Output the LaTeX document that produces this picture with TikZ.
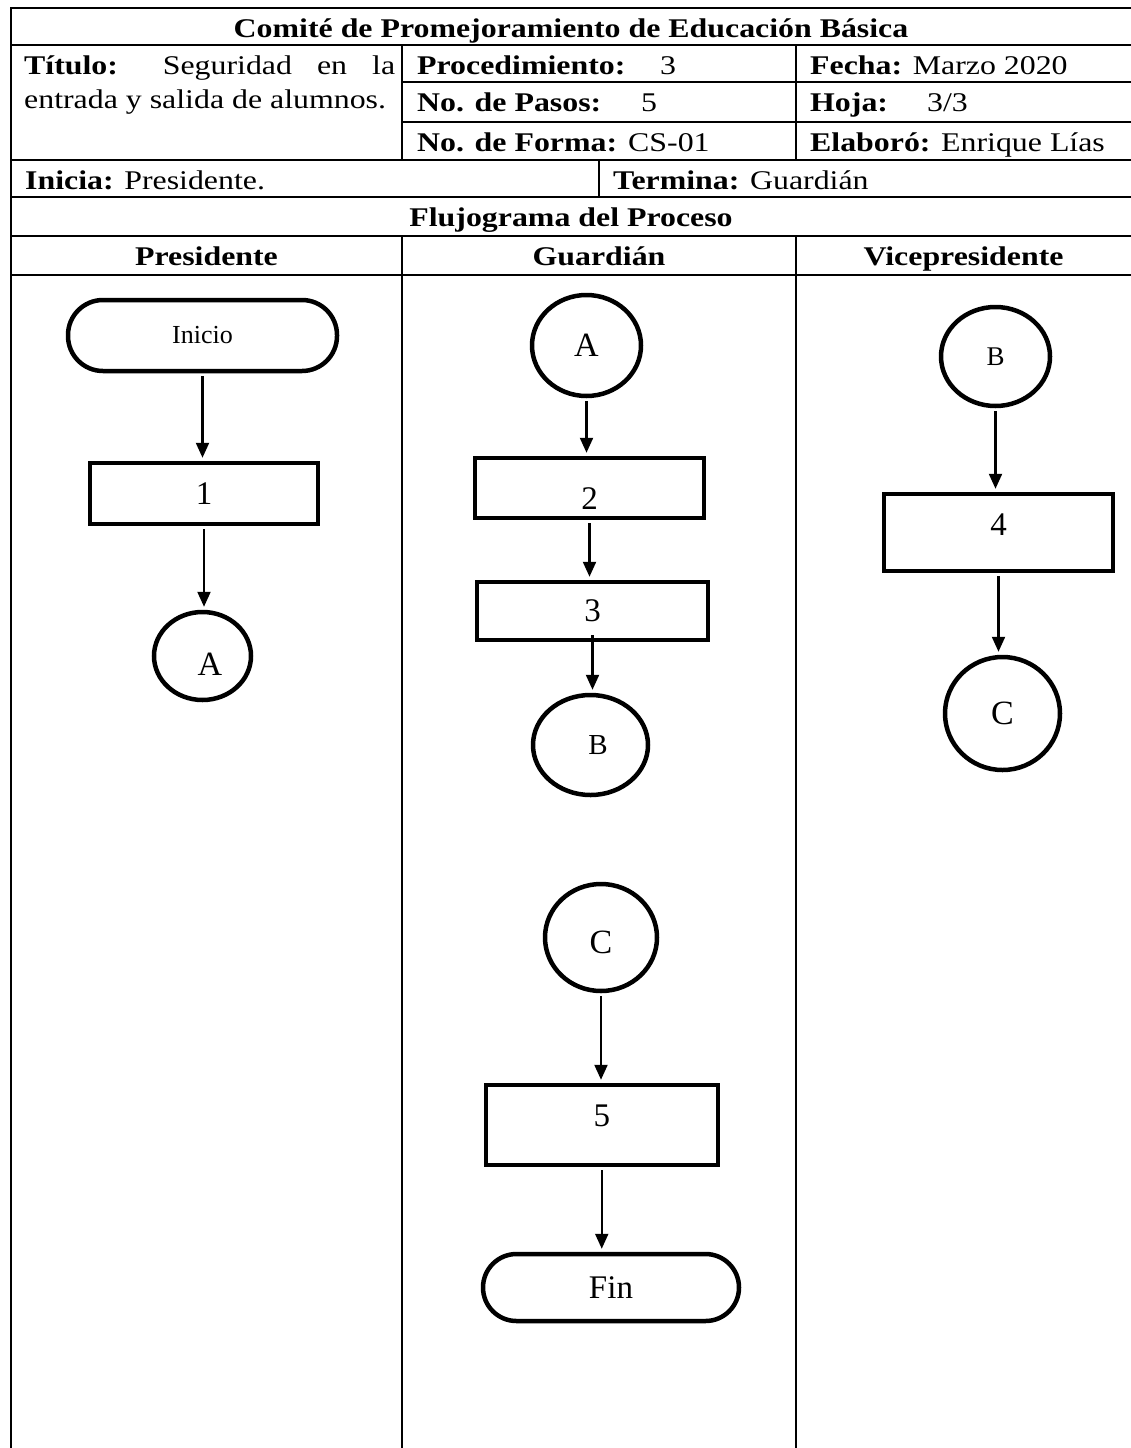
\documentclass[tikz,border=0pt]{standalone}
\usepackage{fontspec}
\setmainfont{Liberation Serif}
\newfontfamily\tabfont[FakeStretch=1.18]{Liberation Serif}
\usetikzlibrary{shapes.geometric,arrows.meta}
\tikzset{
  linea/.style={line width=2pt},
  celda/.style={inner sep=0pt, font=\tabfont\fontsize{27}{36}\selectfont},
  caja/.style={draw, rectangle, line width=4.5pt, inner sep=0pt, font=\fontsize{33}{38}\selectfont},
  conector/.style={draw, ellipse, line width=4.5pt, inner sep=0pt, font=\fontsize{34}{38}\selectfont},
  terminal/.style={draw, rectangle, rounded corners=35pt, line width=4.5pt, inner sep=0pt, font=\fontsize{33}{38}\selectfont},
  etq/.style={inner sep=0pt, font=\fontsize{34}{38}\selectfont},
  flecha/.style={line width=2.2pt, -{Triangle[length=15pt,width=13pt]}, shorten >=3pt, shorten <=3pt}
}
\begin{document}
\begin{tikzpicture}[x=1pt, y=-1pt]
  \useasboundingbox (0,0) rectangle (1131,1448);
  \foreach \y in {8,45,160,197,236,275} \draw[linea] (11,\y) -- (1131,\y);
  \foreach \y in {82,122} \draw[linea] (402,\y) -- (1131,\y);
  \draw[linea] (11,7) -- (11,1448);
  \foreach \x in {402,796} {
    \draw[linea] (\x,45) -- (\x,160);
    \draw[linea] (\x,236) -- (\x,1448);
  }
  \draw[linea] (599,160) -- (599,197);

  \node[celda, anchor=base] (comite) at (571,37) {\bfseries Comité de Promejoramiento de Educación Básica};
  \node[celda, anchor=base west] (titulo) at (24,74) {\makebox[371pt][s]{\textbf{Título:} Seguridad en la}};
  \node[celda, anchor=base west] (titulob) at (24,108) {entrada y salida de alumnos.};
  \node[celda, anchor=base west] (proc) at (417,74) {\makebox[243pt][l]{\textbf{Procedimiento:}}3};
  \node[celda, anchor=base west] (pasos) at (417,111) {\makebox[224pt][l]{\textbf{No. de Pasos:}}5};
  \node[celda, anchor=base west] (forma) at (417,151) {\makebox[211pt][l]{\textbf{No. de Forma:}}CS-01};
  \node[celda, anchor=base west] (fecha) at (810,74) {\textbf{Fecha:} Marzo 2020};
  \node[celda, anchor=base west] (hoja) at (810,111) {\makebox[117pt][l]{\textbf{Hoja:}}3/3};
  \node[celda, anchor=base west] (elaboro) at (810,151) {\textbf{Elaboró:} Enrique Lías};
  \node[celda, anchor=base west] (inicia) at (25,189) {\textbf{Inicia:} Presidente.};
  \node[celda, anchor=base west] (termina) at (613,189) {\textbf{Termina:} Guardián};
  \node[celda, anchor=base] (flujo) at (571,226) {\bfseries Flujograma del Proceso};
  \node[celda, anchor=base] (presidente) at (206.5,265) {\bfseries Presidente};
  \node[celda, anchor=base] (guardian) at (599,265) {\bfseries Guardián};
  \node[celda, anchor=base] (vice) at (963.5,265) {\bfseries Vicepresidente};

  \node[terminal, minimum width=269pt, minimum height=71pt, font=\fontsize{26}{30}\selectfont] (ini) at (202.5,335.5) {Inicio};
  \node[caja, minimum width=228pt, minimum height=61pt] (p1) at (204,493.5) {1};
  \node[conector, minimum width=97pt, minimum height=88pt, label={[etq, xshift=7.5pt, yshift=-8pt]center:A}] (ca1) at (202.5,656) {};

  \node[conector, minimum width=109pt, minimum height=101pt] (ca2) at (586.5,345.5) {A};
  \node[caja, minimum width=229pt, minimum height=60pt, label={[etq, font=\fontsize{33}{38}\selectfont, yshift=-11pt]center:2}] (p2) at (589.5,488) {};
  \node[caja, minimum width=231pt, minimum height=58pt] (p3) at (592.5,611) {3};
  \node[conector, minimum width=115pt, minimum height=100pt, label={[etq, font=\fontsize{29}{34}\selectfont, xshift=7.5pt]center:B}] (cb2) at (590.5,745) {};
  \node[conector, minimum width=112pt, minimum height=107pt, label={[etq, yshift=-5pt]center:C}] (cc2) at (601,937.5) {};
  \node[caja, minimum width=232pt, minimum height=80pt, label={[etq, font=\fontsize{33}{38}\selectfont, yshift=9pt]center:5}] (p5) at (601.75,1125) {};
  \node[terminal, minimum width=256pt, minimum height=67pt, rounded corners=33.5pt] (fin) at (611,1287.5) {Fin};

  \node[conector, minimum width=109pt, minimum height=99pt, font=\fontsize{27}{32}\selectfont] (cb3) at (995.5,356.5) {B};
  \node[caja, minimum width=229pt, minimum height=77pt, label={[etq, font=\fontsize{33}{38}\selectfont, yshift=7.5pt]center:4}] (p4) at (998.5,532.5) {};
  \node[conector, minimum width=115pt, minimum height=113pt] (cc3) at (1002.5,713.5) {C};

  \draw[flecha] (ini.south) -- (ini.south |- p1.north);
  \draw[flecha] (p1.south) -- (p1.south |- ca1.north);
  \draw[flecha] (ca2.south) -- (ca2.south |- p2.north);
  \draw[flecha] (p2.south) -- (p2.south |- p3.north);
  \draw[flecha] ([yshift=10pt]p3.south) -- (p3.south |- cb2.north);
  \draw[flecha] (cc2.south) -- (cc2.south |- p5.north);
  \draw[flecha] (p5.south) -- (p5.south |- fin.north);
  \draw[flecha] (cb3.south) -- (cb3.south |- p4.north);
  \draw[flecha] (p4.south) -- (p4.south |- cc3.north);
\end{tikzpicture}
\end{document}
